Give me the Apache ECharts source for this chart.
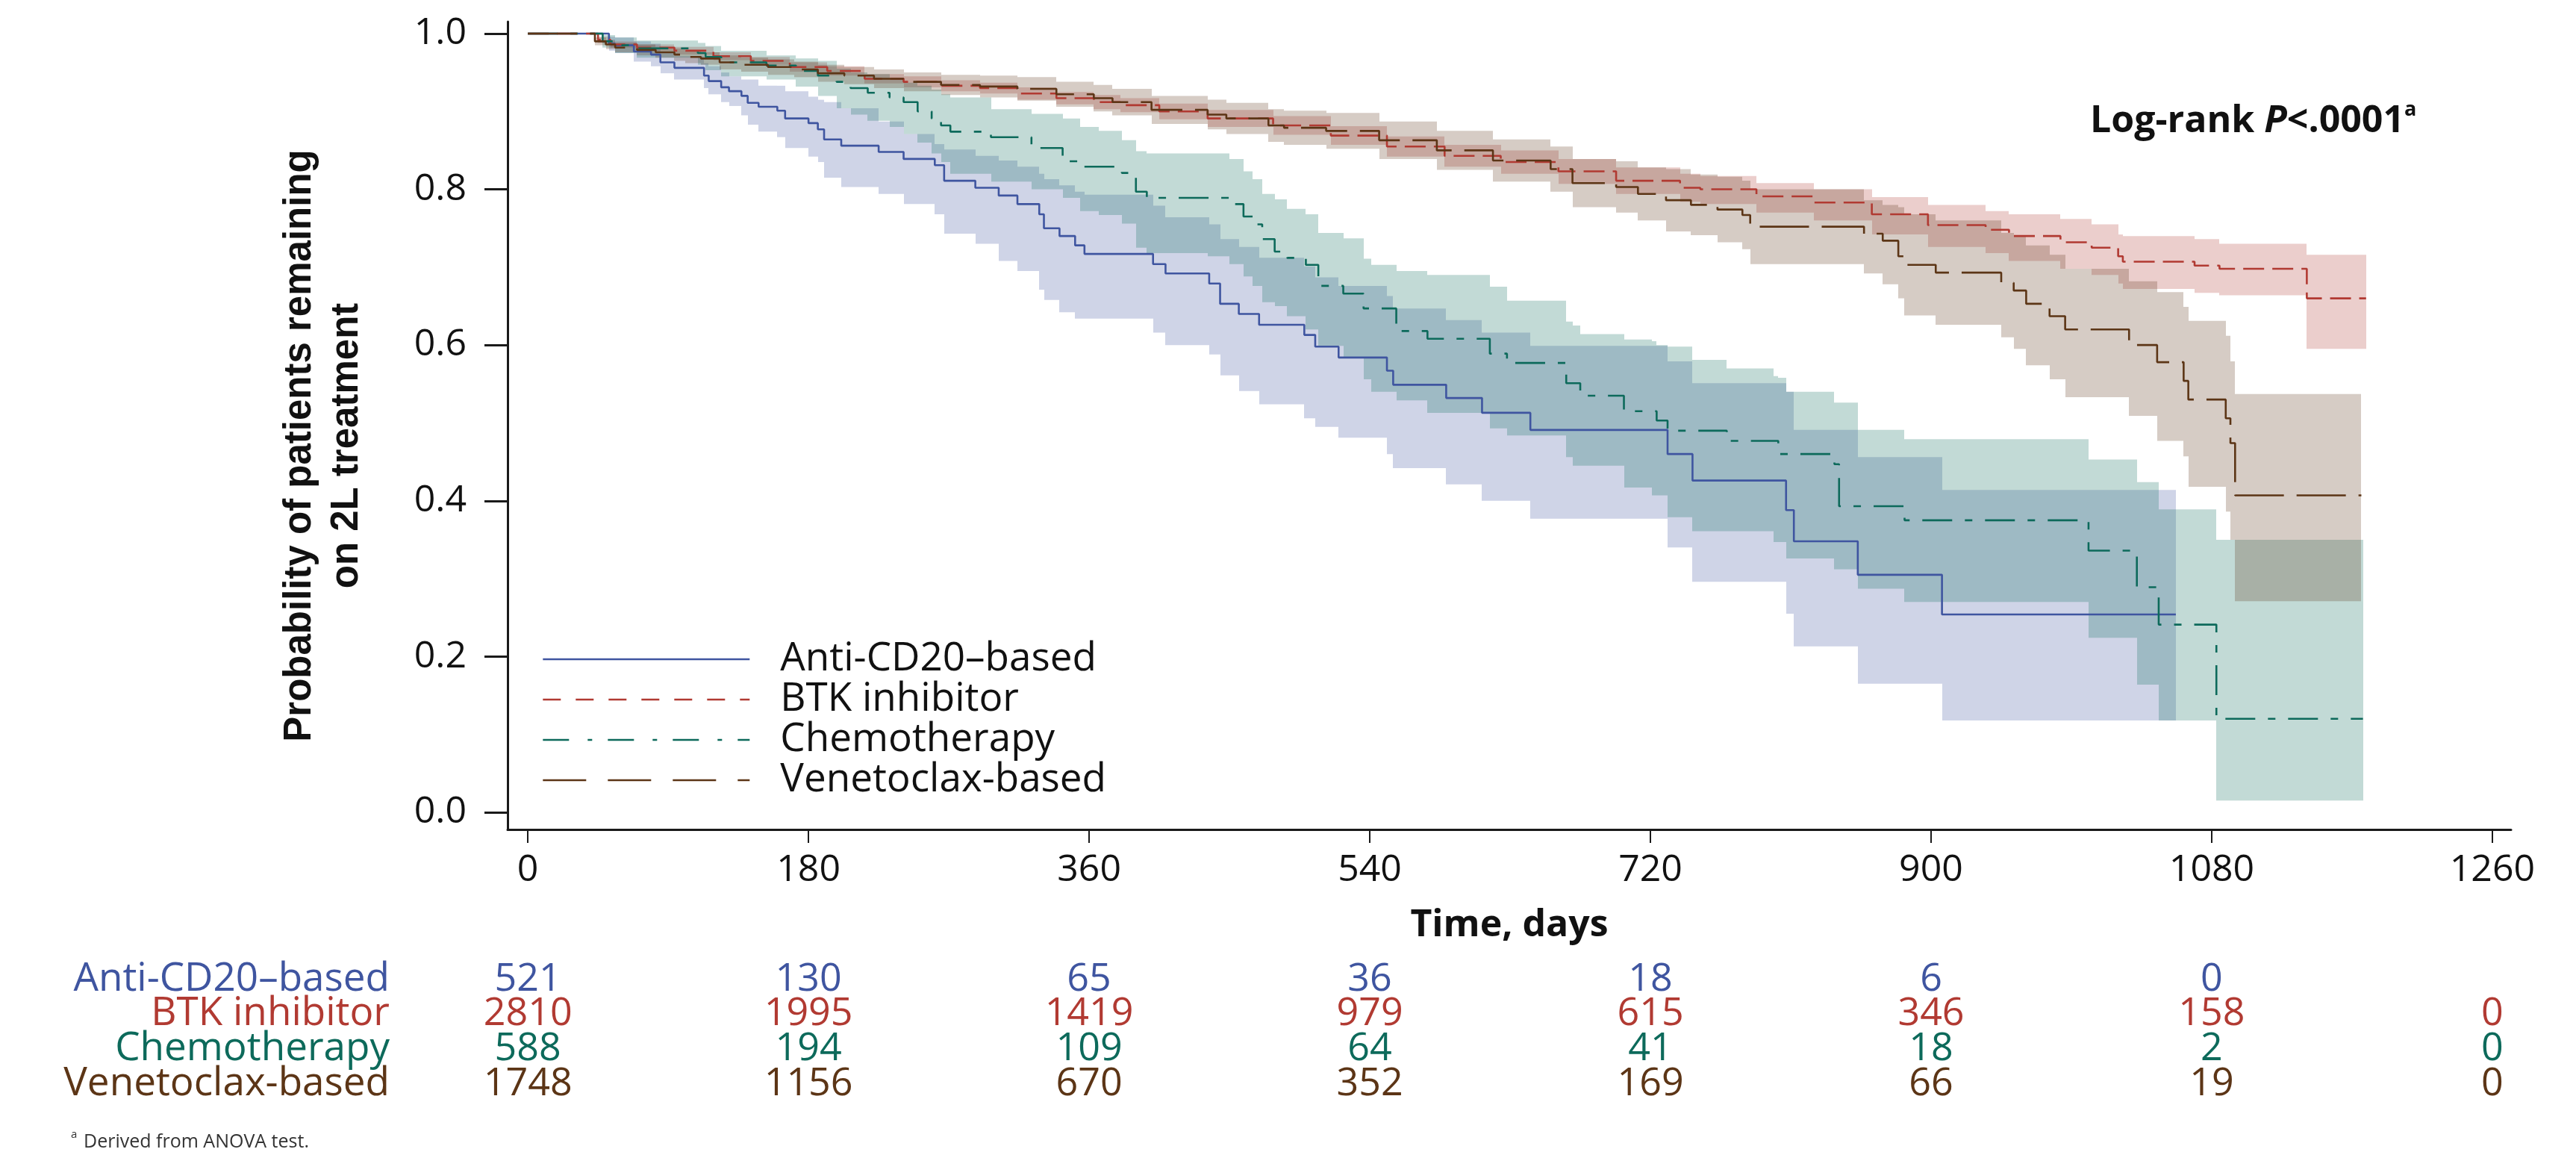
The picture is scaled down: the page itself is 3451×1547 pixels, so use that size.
<!DOCTYPE html>
<html>
<head>
<meta charset="utf-8">
<script src="https://cdn.jsdelivr.net/npm/echarts@6/dist/echarts.min.js"></script>
<style>
html,body{margin:0;padding:0;background:#fff;}
#chart{width:3451px;height:1547px;}
</style>
</head>
<body>
<div id="chart"></div>
<script>
// ---------- tick labels ----------
const ticksX = [0, 180, 360, 540, 720, 900, 1080, 1260];
const ticksY = [0, 0.2, 0.4, 0.6, 0.8, 1.0];

// ---------- number at risk ----------
const riskCD20  = [521, 130, 65, 36, 18, 6, 0, null];
const riskBTK   = [2810, 1995, 1419, 979, 615, 346, 158, 0];
const riskChemo = [588, 194, 109, 64, 41, 18, 2, 0];
const riskVen   = [1748, 1156, 670, 352, 169, 66, 19, 0];

// ---------- Anti-CD20-based ----------
const cd20T = [0,52,56,68,79,85,94,113,116,124, 129,137,141,148,160,165,180,186,190,201, 225,241,261,267,287,302,314,328,331,341, 351,357,401,409,437,444,456,469,498,505, 520,551,555,589,612,643,731,747,807,812, 853,907];
const cd20S = [1,0.987,0.985,0.977,0.973,0.963,0.956,0.946,0.939,0.931, 0.926,0.920,0.911,0.906,0.901,0.891,0.885,0.877,0.864,0.856, 0.848,0.839,0.831,0.811,0.802,0.792,0.781,0.768,0.750,0.740, 0.728,0.717,0.704,0.692,0.679,0.653,0.640,0.626,0.613,0.598, 0.584,0.567,0.549,0.532,0.513,0.491,0.460,0.426,0.388,0.348, 0.305,0.254];
const cd20Lo = [1,0.978,0.975,0.964,0.958,0.949,0.941,0.930,0.922,0.912, 0.907,0.895,0.883,0.874,0.867,0.853,0.842,0.835,0.815,0.803, 0.794,0.781,0.768,0.743,0.730,0.708,0.695,0.671,0.658,0.642, 0.634,0.634,0.616,0.600,0.588,0.561,0.541,0.524,0.506,0.495, 0.481,0.460,0.442,0.421,0.400,0.377,0.340,0.296,0.255,0.213, 0.165,0.118];
const cd20Hi = [1,0.996,0.995,0.990,0.987,0.977,0.971,0.962,0.958,0.950, 0.945,0.941,0.941,0.933,0.933,0.926,0.919,0.915,0.912,0.904, 0.887,0.871,0.858,0.851,0.843,0.837,0.829,0.820,0.813,0.805, 0.797,0.793,0.779,0.764,0.755,0.736,0.726,0.712,0.701,0.687, 0.676,0.663,0.647,0.632,0.616,0.599,0.579,0.551,0.540,0.491, 0.456,0.414];
const cd20End = 1057;

// ---------- BTK inhibitor ----------
const btkT = [0,45,53,70,94,119,143,168,192,216, 241,265,290,314,339,363,380,405,436,478, 515,551,588,624,661,698,739,752,788,825, 862,898,935,950,983,1003,1020,1023,1069,1085, 1141];
const btkS = [1,0.992,0.986,0.982,0.978,0.971,0.965,0.957,0.952,0.942, 0.938,0.933,0.930,0.923,0.917,0.912,0.908,0.900,0.891,0.882, 0.869,0.855,0.843,0.835,0.823,0.811,0.802,0.800,0.791,0.783, 0.768,0.754,0.748,0.740,0.732,0.725,0.714,0.707,0.702,0.698, 0.660];
const btkLo = [1,0.988,0.982,0.978,0.973,0.966,0.960,0.951,0.946,0.936, 0.931,0.926,0.923,0.915,0.909,0.903,0.899,0.890,0.880,0.870, 0.857,0.842,0.829,0.820,0.807,0.794,0.784,0.781,0.770,0.760, 0.742,0.726,0.718,0.708,0.698,0.690,0.679,0.672,0.667,0.664, 0.595];
const btkHi = [1,0.996,0.990,0.986,0.983,0.976,0.970,0.963,0.958,0.948, 0.945,0.940,0.937,0.931,0.925,0.921,0.917,0.910,0.902,0.894, 0.881,0.868,0.857,0.850,0.839,0.828,0.820,0.817,0.808,0.800, 0.790,0.780,0.772,0.768,0.762,0.755,0.742,0.740,0.736,0.730, 0.716];
const btkEnd = 1179;

// ---------- Chemotherapy ----------
const chemoT = [0,48,56,70,109,114,124,153,172,186, 198,207,218,232,241,250,259,265,271,297, 323,343,354,366,381,390,397,436,450,459, 465,471,479,487,499,507,523,536,541,557, 577,617,628,666,670,675,703,721,724,731, 747,769,799,802,807,838,841,853,883,1001, 1032,1046,1083];
const chemoS = [1,0.990,0.985,0.981,0.975,0.970,0.963,0.959,0.952,0.946, 0.938,0.930,0.924,0.918,0.912,0.900,0.891,0.882,0.874,0.867, 0.853,0.836,0.829,0.829,0.821,0.797,0.789,0.789,0.781,0.765, 0.755,0.736,0.720,0.712,0.703,0.676,0.666,0.647,0.647,0.618, 0.608,0.589,0.577,0.551,0.551,0.535,0.515,0.515,0.503,0.490, 0.490,0.477,0.477,0.460,0.460,0.447,0.393,0.393,0.375,0.336, 0.289,0.241,0.120];
const chemoLo = [1,0.982,0.975,0.969,0.960,0.953,0.945,0.941,0.932,0.920, 0.904,0.896,0.888,0.880,0.871,0.860,0.846,0.835,0.820,0.810, 0.800,0.789,0.772,0.767,0.756,0.725,0.718,0.714,0.704,0.688, 0.676,0.655,0.650,0.637,0.620,0.599,0.583,0.556,0.540,0.529, 0.513,0.493,0.484,0.456,0.445,0.445,0.417,0.407,0.407,0.379, 0.361,0.361,0.347,0.347,0.326,0.312,0.312,0.287,0.270,0.224, 0.164,0.118,0.015];
const chemoHi = [1,0.998,0.995,0.991,0.988,0.984,0.978,0.972,0.968,0.965, 0.955,0.950,0.948,0.942,0.937,0.933,0.928,0.922,0.918,0.903, 0.897,0.891,0.880,0.875,0.863,0.849,0.846,0.846,0.839,0.823, 0.813,0.794,0.787,0.775,0.768,0.744,0.737,0.711,0.703,0.695, 0.690,0.675,0.657,0.630,0.625,0.614,0.607,0.605,0.600,0.598, 0.581,0.570,0.560,0.558,0.540,0.526,0.526,0.491,0.479,0.453, 0.424,0.389,0.350];
const chemoEnd = 1177;

// ---------- Venetoclax-based ----------
const venT = [0,43,50,56,70,82,94,101,111,123, 137,154,171,186,203,222,241,265,290,314, 339,363,375,400,436,448,475,485,512,546, 583,619,656,670,698,712,730,746,763,779, 784,857,869,879,883,903,945,953,961,976, 986,1027,1045,1062,1065,1089,1092,1095];
const venS = [1,0.990,0.986,0.982,0.979,0.976,0.973,0.970,0.968,0.963, 0.960,0.957,0.954,0.949,0.946,0.942,0.938,0.934,0.932,0.929, 0.922,0.917,0.912,0.902,0.896,0.891,0.882,0.879,0.875,0.863, 0.850,0.837,0.826,0.808,0.803,0.794,0.786,0.780,0.774,0.767, 0.752,0.743,0.734,0.714,0.703,0.693,0.680,0.670,0.653,0.637, 0.620,0.600,0.578,0.554,0.530,0.506,0.474,0.407];
const venLo = [1,0.985,0.980,0.976,0.972,0.969,0.965,0.962,0.960,0.954, 0.951,0.947,0.944,0.938,0.935,0.930,0.926,0.921,0.918,0.914, 0.906,0.900,0.895,0.884,0.877,0.871,0.861,0.857,0.852,0.839, 0.825,0.810,0.797,0.777,0.770,0.760,0.746,0.741,0.732,0.723, 0.704,0.692,0.678,0.660,0.638,0.626,0.610,0.595,0.574,0.556, 0.533,0.509,0.477,0.457,0.418,0.386,0.350,0.271];
const venHi = [1,0.995,0.992,0.988,0.986,0.983,0.981,0.978,0.976,0.972, 0.969,0.967,0.964,0.960,0.957,0.954,0.950,0.947,0.946,0.944, 0.938,0.934,0.929,0.920,0.915,0.911,0.903,0.901,0.898,0.887, 0.875,0.864,0.855,0.839,0.836,0.828,0.826,0.819,0.816,0.811, 0.800,0.786,0.780,0.777,0.768,0.760,0.744,0.740,0.728,0.716, 0.698,0.682,0.668,0.649,0.631,0.612,0.579,0.537];
const venEnd = 1176;

// ---------- styling ----------
const FONT = '"Open Sans", "Noto Sans", sans-serif';
const groups = [
  {name: 'Anti-CD20\u2013based', color: '#3f55a0', band: 'rgba(63,85,160,0.25)',  T: cd20T,  S: cd20S,  L: cd20Lo,  H: cd20Hi,  end: cd20End,  dash: 'solid',          legDash: 'solid',         risk: riskCD20},
  {name: 'BTK inhibitor',      color: '#b13a32', band: 'rgba(177,58,50,0.25)',  T: btkT,   S: btkS,   L: btkLo,   H: btkHi,   end: btkEnd,   dash: [28, 11],         legDash: [24, 20],        risk: riskBTK},
  {name: 'Chemotherapy',       color: '#0d6a5b', band: 'rgba(13,106,91,0.25)',  T: chemoT, S: chemoS, L: chemoLo, H: chemoHi, end: chemoEnd, dash: [40, 17, 10, 17], legDash: [35, 25, 6, 21], risk: riskChemo},
  {name: 'Venetoclax-based',   color: '#5c3516', band: 'rgba(92,53,22,0.25)',   T: venT,   S: venS,   L: venLo,   H: venHi,   end: venEnd,   dash: [66, 17],         legDash: [58, 29],        risk: riskVen}
];

function lineData(T, S, end) {
  const d = T.map((t, i) => [t, S[i]]);
  d.push([end, S[S.length - 1]]);
  return d;
}
function bandData(T, L, H, end) {
  return T.map((t, i) => [t, i < T.length - 1 ? T[i + 1] : end, L[i], H[i]]);
}

const X_MIN = -13, X_MAX = 1272;
const Y_MIN = -0.0221, Y_MAX = 1.0153;

const series = [];
groups.forEach((g, gi) => {
  series.push({
    type: 'custom',
    name: 'band' + gi,
    xAxisIndex: 0, yAxisIndex: 0,
    z: 1,
    silent: true,
    data: bandData(g.T, g.L, g.H, g.end),
    encode: {x: [0, 1], y: [2, 3]},
    renderItem: function (params, api) {
      const p0 = api.coord([api.value(0), api.value(3)]);
      const p1 = api.coord([api.value(1), api.value(2)]);
      const x0 = Math.round(p0[0]), x1 = Math.round(p1[0]);
      return {
        type: 'rect',
        shape: {x: x0, y: p0[1], width: x1 - x0, height: p1[1] - p0[1]},
        style: {fill: g.band}
      };
    }
  });
});
groups.forEach((g) => {
  series.push({
    type: 'line',
    name: g.name,
    xAxisIndex: 0, yAxisIndex: 0,
    z: 3,
    step: 'end',
    symbol: 'none',
    showSymbol: false,
    data: lineData(g.T, g.S, g.end),
    lineStyle: {color: g.color, width: 2.6, type: g.dash},
    itemStyle: {color: g.color}
  });
});

const riskOffsets = [201, 247, 294, 341];
const xAxes = [{
  type: 'value', gridIndex: 0, min: X_MIN, max: X_MAX, position: 'bottom',
  splitLine: {show: false},
  axisLine: {show: true, onZero: false, lineStyle: {color: '#1a1a1a', width: 3}},
  axisTick: {show: true, customValues: ticksX, length: 18, lineStyle: {color: '#1a1a1a', width: 2}},
  axisLabel: {customValues: ticksX, fontSize: 50, fontFamily: FONT, color: '#111', margin: 30,
    formatter: v => String(Math.round(v))},
  name: 'Time, days', nameLocation: 'middle', nameGap: 104, nameMoveOverlap: false,
  nameTextStyle: {fontSize: 50, fontWeight: 'bold', fontFamily: FONT, color: '#111'}
}];
groups.forEach((g, gi) => {
  xAxes.push({
    type: 'value', gridIndex: 0, min: X_MIN, max: X_MAX, position: 'bottom',
    offset: riskOffsets[gi],
    splitLine: {show: false},
    axisLine: {show: false, onZero: false},
    axisTick: {show: false},
    axisLabel: {
      customValues: ticksX, fontSize: 52, fontFamily: FONT, color: g.color,
      margin: 0, verticalAlign: 'middle',
      formatter: function (v) {
        const idx = ticksX.indexOf(Math.round(v));
        const n = idx >= 0 ? g.risk[idx] : null;
        return n === null || n === undefined ? '' : String(n);
      }
    },
    name: g.name, nameLocation: 'start', nameGap: 158, nameMoveOverlap: false,
    nameTextStyle: {fontSize: 53, fontFamily: FONT, color: g.color, align: 'right', verticalAlign: 'middle'}
  });
});

const option = {
  animation: false,
  backgroundColor: '#ffffff',
  grid: {left: 680, right: 87, top: 29, bottom: 436, containLabel: false},
  xAxis: xAxes,
  yAxis: [{
    type: 'value', min: Y_MIN, max: Y_MAX,
    splitLine: {show: false},
    axisLine: {show: true, onZero: false, lineStyle: {color: '#1a1a1a', width: 3}},
    axisTick: {show: true, customValues: ticksY, length: 31, lineStyle: {color: '#1a1a1a', width: 3}},
    axisLabel: {customValues: ticksY, fontSize: 50, fontFamily: FONT, color: '#111', margin: 55,
      formatter: v => Number(v).toFixed(1)}
  }],
  legend: {
    orient: 'vertical', left: 721, top: 851, align: 'left',
    itemWidth: 277, itemHeight: 14, itemGap: 0,
    selectedMode: false,
    itemStyle: {opacity: 0},
    textStyle: {fontSize: 53, fontFamily: FONT, color: '#111', lineHeight: 54, padding: [0, 0, 0, 36]},
    data: groups.map(g => ({name: g.name, itemStyle: {opacity: 0, borderWidth: 0}, lineStyle: {color: g.color, width: 2.6, type: g.legDash, opacity: 1}}))
  },
  graphic: [
    {
      type: 'text', x: 433, y: 597, rotation: Math.PI / 2, silent: true,
      style: {
        text: 'Probability of patients remaining\non 2L treatment',
        fontSize: 51, fontWeight: 'bold', fontFamily: '"Liberation Sans", Arial, sans-serif',
        fill: '#111', lineHeight: 63,
        align: 'center', verticalAlign: 'middle', textAlign: 'center', textVerticalAlign: 'middle'
      }
    },
    {
      type: 'text', x: 2800, y: 163, silent: true,
      style: {
        text: '{b|Log-rank }{i|P}{b|<.0001}{s|a}',
        fill: '#111',
        verticalAlign: 'middle', textVerticalAlign: 'middle',
        rich: {
          b: {fontSize: 50, fontWeight: 'bold', fontFamily: FONT, lineHeight: 58, fill: '#111'},
          i: {fontSize: 50, fontWeight: 'bold', fontStyle: 'italic', fontFamily: FONT, lineHeight: 58, fill: '#111'},
          s: {fontSize: 27, fontWeight: 'bold', fontFamily: FONT, lineHeight: 27, verticalAlign: 'top', fill: '#111'}
        }
      }
    },
    {
      type: 'text', x: 95, y: 1520, silent: true,
      style: {text: 'a', fontSize: 15, fontFamily: FONT, fill: '#333', verticalAlign: 'middle', textVerticalAlign: 'middle'}
    },
    {
      type: 'text', x: 112, y: 1530, silent: true,
      style: {text: 'Derived from ANOVA test.', fontSize: 25, fontFamily: FONT, fill: '#333', verticalAlign: 'middle', textVerticalAlign: 'middle'}
    }
  ],
  series: series
};

const chart = echarts.init(document.getElementById('chart'), null, {renderer: 'canvas', width: 3451, height: 1547});
chart.setOption(option);
</script>
</body>
</html>
